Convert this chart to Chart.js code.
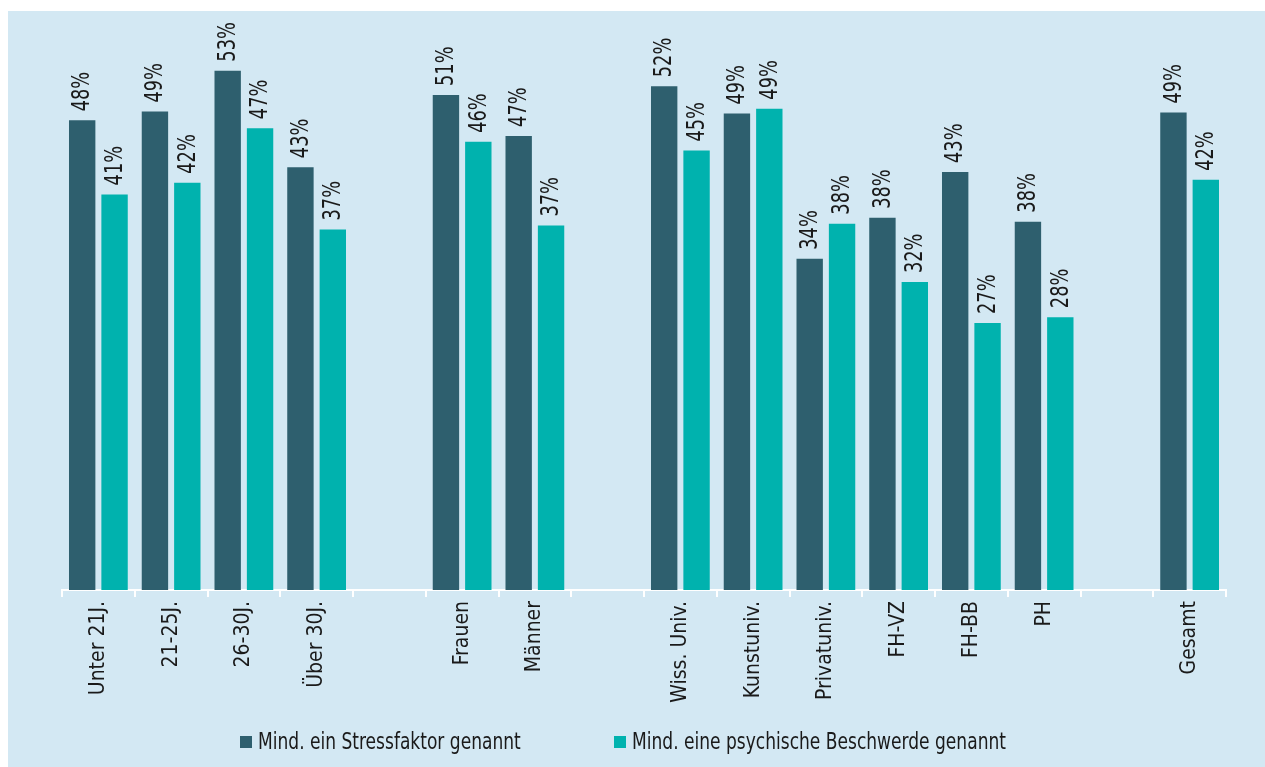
<!DOCTYPE html>
<html lang="de">
<head>
<meta charset="utf-8">
<title>Stressfaktoren und psychische Beschwerden</title>
<script src="https://cdn.jsdelivr.net/npm/chart.js@4.4.1/dist/chart.umd.min.js"></script>
<style>
  body { margin: 0; background: #fff; width: 1265px; height: 767px; overflow: hidden; position: relative; }
  .panel { position: absolute; left: 8px; top: 11px; right: 0; bottom: 0; background: #d3e8f3; }
  #chart { position: absolute; left: 0; top: 0; }
  .legend { position: absolute; top: 728px; font-family: "Liberation Sans Narrow", "DejaVu Sans Condensed", sans-serif; font-size: 23px; color: #1a1a1a; white-space: nowrap; }
  .legend span.box { display: inline-block; width: 12px; height: 12px; margin-right: 6px; vertical-align: 1px; }
  .legend span.txt { display: inline-block; transform: scaleX(0.825); transform-origin: left center; }
</style>
</head>
<body>
<div class="panel"></div>
<canvas id="chart" width="1265" height="767"></canvas>
<div class="legend" id="leg1" style="left:240px"></div>
<div class="legend" id="leg2" style="left:614px"></div>

<script>
// Kategorien (leere Einträge = Abstand zwischen Gruppen)
const categories = ['Unter 21J.', '21-25J.', '26-30J.', 'Über 30J.', '',
  'Frauen', 'Männer', '',
  'Wiss. Univ.', 'Kunstuniv.', 'Privatuniv.', 'FH-VZ', 'FH-BB', 'PH', '',
  'Gesamt'];

// Werte in % (aus den Balkenhöhen geschätzt, Beschriftung gerundet)
const stressfaktor = [48.2, 49.1, 53.3, 43.4, null, 50.8, 46.6, null, 51.7, 48.9, 34.0, 38.2, 42.9, 37.8, null, 49.0];
const beschwerde   = [40.6, 41.8, 47.4, 37.0, null, 46.0, 37.4, null, 45.1, 49.4, 37.6, 31.6, 27.4, 28.0, null, 42.1];

const seriesNames = ['Mind. ein Stressfaktor genannt', 'Mind. eine psychische Beschwerde genannt'];
const seriesColors = ['#2e5f6e', '#00b2ae'];

const fontFamily = '"Liberation Sans Narrow", "DejaVu Sans Condensed", sans-serif';
Chart.defaults.font.family = fontFamily;
Chart.defaults.color = '#1a1a1a';

// Prozentwerte über den Balken (gedreht)
const barLabels = {
  id: 'barLabels',
  afterDatasetsDraw(chart) {
    const ctx = chart.ctx;
    ctx.save();
    ctx.font = '22px ' + fontFamily;
    ctx.fillStyle = '#1a1a1a';
    ctx.textAlign = 'left';
    ctx.textBaseline = 'middle';
    chart.data.datasets.forEach((ds, i) => {
      chart.getDatasetMeta(i).data.forEach((bar, j) => {
        const v = ds.data[j];
        if (v === null) return;
        ctx.save();
        ctx.translate(bar.x + 1, bar.y - 9);
        ctx.rotate(-Math.PI / 2);
        ctx.scale(0.9, 1.1); // schmalere, höhere Schrift
        ctx.fillText(Math.round(v) + '%', 0, 0);
        ctx.restore();
      });
    });
    ctx.restore();
  }
};

new Chart(document.getElementById('chart'), {
  type: 'bar',
  data: {
    labels: categories,
    datasets: [
      { label: seriesNames[0], data: stressfaktor, backgroundColor: seriesColors[0] },
      { label: seriesNames[1], data: beschwerde, backgroundColor: seriesColors[1] }
    ]
  },
  options: {
    responsive: false,
    animation: false,
    layout: { padding: { top: 20, left: 62, right: 39, bottom: 0 } },
    datasets: { bar: { categoryPercentage: 0.89, barPercentage: 0.815 } },
    plugins: { legend: { display: false }, tooltip: { enabled: false } },
    scales: {
      x: {
        afterFit: (scale) => { scale.height = 177; },
        border: { color: '#fff', width: 2 },
        grid: { offset: true, drawOnChartArea: false, drawTicks: true, tickLength: 7, color: '#fff', lineWidth: 2 },
        ticks: { minRotation: 90, maxRotation: 90, padding: 4, autoSkip: false, font: { size: 21 }, color: '#1a1a1a' }
      },
      y: { display: false, min: 0, max: 58.5 }
    }
  },
  plugins: [barLabels]
});

// Legende
[document.getElementById('leg1'), document.getElementById('leg2')].forEach((el, i) => {
  el.innerHTML = '<span class="box" style="background:' + seriesColors[i] + '"></span>' +
    '<span class="txt">' + seriesNames[i] + '</span>';
});
</script>
</body>
</html>
